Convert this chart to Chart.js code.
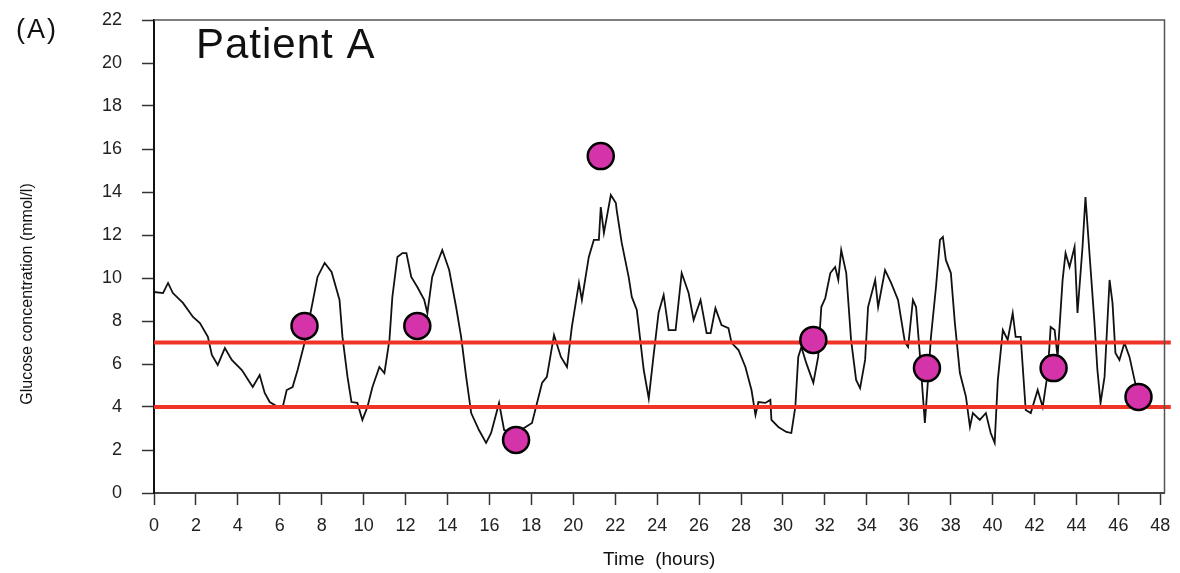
<!DOCTYPE html>
<html>
<head>
<meta charset="utf-8">
<script src="https://cdn.jsdelivr.net/npm/chart.js@4.4.1/dist/chart.umd.min.js"></script>
<style>
  html, body { margin: 0; padding: 0; background: #fff; }
  #wrap { width: 1180px; height: 573px; }
</style>
</head>
<body>
<div id="wrap"><canvas id="c"></canvas></div>
<script>
// continuous glucose trace (hours, mmol/l)
const traceHours = [
  0.0, 0.43, 0.67, 0.9, 1.38, 1.86, 2.19, 2.57, 2.76, 3.04, 3.38, 3.71, 4.19, 4.71, 5.04, 5.28, 5.52, 6.0, 6.14, 6.33,
  6.61, 6.85, 7.18, 7.56, 7.8, 8.14, 8.47, 8.85, 8.99, 9.23, 9.42, 9.7, 9.94, 10.18, 10.42, 10.75, 10.99, 11.23, 11.37, 11.61,
  11.85, 12.04, 12.27, 12.56, 12.89, 13.04, 13.27, 13.51, 13.75, 14.08, 14.41, 14.65, 14.89, 15.13, 15.5, 15.84, 16.08, 16.46, 16.7, 17.27,
  18.03, 18.51, 18.74, 19.08, 19.41, 19.7, 19.93, 20.27, 20.41, 20.74, 20.98, 21.22, 21.31, 21.46, 21.79, 22.03, 22.07, 22.31, 22.64, 22.79,
  23.03, 23.36, 23.6, 23.83, 24.07, 24.31, 24.55, 24.88, 25.17, 25.5, 25.74, 26.07, 26.36, 26.55, 26.78, 27.07, 27.4, 27.55, 27.88, 28.21,
  28.5, 28.69, 28.83, 29.16, 29.4, 29.45, 29.78, 30.16, 30.4, 30.59, 30.73, 30.88, 31.11, 31.45, 31.68, 31.83, 32.02, 32.26, 32.49, 32.64,
  32.78, 33.02, 33.25, 33.49, 33.68, 33.92, 34.06, 34.4, 34.54, 34.87, 35.16, 35.49, 35.82, 35.97, 36.2, 36.35, 36.54, 36.77, 36.92, 37.06,
  37.3, 37.49, 37.63, 37.77, 38.01, 38.2, 38.44, 38.73, 38.92, 39.06, 39.39, 39.68, 39.91, 40.1, 40.25, 40.49, 40.72, 40.96, 41.1, 41.34,
  41.58, 41.82, 42.15, 42.39, 42.63, 42.77, 42.96, 43.1, 43.34, 43.48, 43.67, 43.91, 44.05, 44.29, 44.43, 44.62, 44.86, 45.0, 45.15, 45.34,
  45.58, 45.72, 45.86, 46.05, 46.29, 46.53, 46.77, 46.95
];
const traceGlucose = [
  9.35, 9.3, 9.77, 9.3, 8.84, 8.19, 7.9, 7.26, 6.42, 5.95, 6.74, 6.19, 5.72, 4.93, 5.49, 4.65, 4.23, 3.95, 4.0, 4.79,
  4.93, 5.72, 6.98, 8.84, 10.05, 10.7, 10.28, 8.98, 7.26, 5.4, 4.23, 4.19, 3.4, 4.0, 4.93, 5.86, 5.58, 7.12, 9.12, 10.98,
  11.16, 11.16, 10.05, 9.58, 8.98, 8.37, 10.05, 10.7, 11.3, 10.37, 8.65, 7.26, 5.4, 3.72, 2.93, 2.33, 2.79, 4.19, 2.93, 2.79,
  3.26, 5.12, 5.4, 7.35, 6.33, 5.86, 7.72, 9.77, 8.98, 10.98, 11.77, 11.77, 13.3, 12.09, 13.86, 13.49, 13.16, 11.63, 10.05, 9.12,
  8.51, 5.72, 4.4, 6.4, 8.4, 9.21, 7.58, 7.58, 10.23, 9.3, 8.05, 8.98, 7.44, 7.44, 8.6, 7.81, 7.67, 6.98, 6.65, 5.86,
  4.79, 3.63, 4.23, 4.19, 4.33, 3.4, 3.07, 2.84, 2.79, 4.0, 6.33, 6.79, 6.05, 5.12, 6.33, 8.65, 9.07, 10.23, 10.51, 9.91,
  11.3, 10.23, 7.12, 5.26, 4.88, 6.19, 8.65, 9.91, 8.65, 10.37, 9.77, 8.98, 7.0, 6.79, 8.98, 8.65, 6.33, 3.26, 5.26, 7.26,
  9.58, 11.77, 11.91, 10.84, 10.23, 7.91, 5.58, 4.47, 3.07, 3.72, 3.4, 3.72, 2.79, 2.33, 5.26, 7.58, 7.12, 8.37, 7.26, 7.26,
  3.86, 3.72, 4.79, 4.0, 5.58, 7.72, 7.58, 6.33, 9.91, 11.16, 10.51, 11.44, 8.37, 11.44, 13.77, 11.16, 7.91, 5.72, 4.19, 5.4,
  9.91, 8.84, 6.51, 6.19, 6.98, 6.33, 5.26, 4.5
];

// fingerstick samples
const sampleHours = [7.18, 12.56, 17.27, 21.31, 31.45, 36.87, 42.91, 46.96];
const sampleGlucose = [7.77, 7.77, 2.47, 15.67, 7.12, 5.81, 5.81, 4.47];

// target band
const bandHours = [0, 48.5];
const bandLow = [4, 4];
const bandHigh = [7, 7];

const xTicks = [0, 2, 4, 6, 8, 10, 12, 14, 16, 18, 20, 22, 24, 26, 28, 30, 32, 34, 36, 38, 40, 42, 44, 46, 48];
const yTicks = [0, 2, 4, 6, 8, 10, 12, 14, 16, 18, 20, 22];

const pts = (xs, ys) => xs.map((x, i) => ({ x, y: ys[i] }));
const FONT = "'Liberation Sans', Arial, sans-serif";

const frame = {
  id: 'frame',
  afterDraw(c) {
    const { ctx, chartArea: a } = c;
    ctx.save();
    // top and right edges of the box
    ctx.strokeStyle = '#555';
    ctx.lineWidth = 1.5;
    ctx.beginPath();
    ctx.moveTo(a.left, a.top);
    ctx.lineTo(a.right, a.top);
    ctx.lineTo(a.right, a.bottom);
    ctx.stroke();
    ctx.fillStyle = '#111';
    ctx.textBaseline = 'alphabetic';
    ctx.letterSpacing = '2px';
    ctx.font = '27px ' + FONT;
    ctx.fillText('(A)', 16, 38);
    ctx.letterSpacing = '1px';
    ctx.font = '42px ' + FONT;
    ctx.fillText('Patient A', 196, 58);
    // y title
    ctx.letterSpacing = '0px';
    ctx.font = '16px ' + FONT;
    ctx.translate(28, 294);
    ctx.rotate(-Math.PI / 2);
    ctx.textAlign = 'center';
    ctx.textBaseline = 'middle';
    ctx.fillText('Glucose concentration (mmol/l)', 0, 0);
    ctx.restore();
  },
};

new Chart(document.getElementById('c'), {
  type: 'scatter',
  data: {
    datasets: [
      {
        data: pts(sampleHours, sampleGlucose),
        pointRadius: 13,
        pointHoverRadius: 13,
        backgroundColor: '#d433a9',
        borderColor: '#000',
        borderWidth: 2.5,
        order: 0,
      },
      {
        data: pts(bandHours, bandHigh),
        showLine: true,
        borderColor: '#ef3327',
        borderWidth: 4,
        pointRadius: 0,
        clip: false,
        order: 1,
      },
      {
        data: pts(bandHours, bandLow),
        showLine: true,
        borderColor: '#ef3327',
        borderWidth: 4,
        pointRadius: 0,
        clip: false,
        order: 1,
      },
      {
        data: pts(traceHours, traceGlucose),
        showLine: true,
        borderColor: '#111',
        borderWidth: 1.8,
        pointRadius: 0,
        tension: 0,
        order: 2,
      },
    ],
  },
  options: {
    responsive: true,
    maintainAspectRatio: false,
    animation: false,
    layout: { padding: { left: 0, top: 20, right: 13, bottom: 0 } },
    plugins: { legend: { display: false }, tooltip: { enabled: false } },
    scales: {
      x: {
        type: 'linear',
        min: 0,
        max: 48.2,
        afterBuildTicks: (s) => { s.ticks = xTicks.map((v) => ({ value: v })); },
        afterFit: (s) => { s.height = 80; s.paddingLeft = 0; s.paddingRight = 0; },
        grid: { drawOnChartArea: false, drawTicks: true, tickLength: 12, tickColor: '#333', tickWidth: 1.5 },
        border: { display: true, color: '#444', width: 2 },
        ticks: { color: '#222', font: { family: FONT, size: 18 }, padding: 10, maxRotation: 0 },
        title: { display: true, text: 'Time  (hours)', color: '#111', font: { family: FONT, size: 19 }, padding: { top: 0, bottom: 2 } },
      },
      y: {
        min: 0,
        max: 22,
        afterBuildTicks: (s) => { s.ticks = yTicks.map((v) => ({ value: v })); },
        afterFit: (s) => { s.width = 154; s.paddingTop = 0; s.paddingBottom = 0; },
        grid: { drawOnChartArea: false, drawTicks: true, tickLength: 12, tickColor: '#333', tickWidth: 1.5 },
        border: { display: true, color: '#111', width: 2 },
        ticks: { color: '#222', font: { family: FONT, size: 18 }, padding: 20 },
      },
    },
  },
  plugins: [frame],
});
</script>
</body>
</html>
